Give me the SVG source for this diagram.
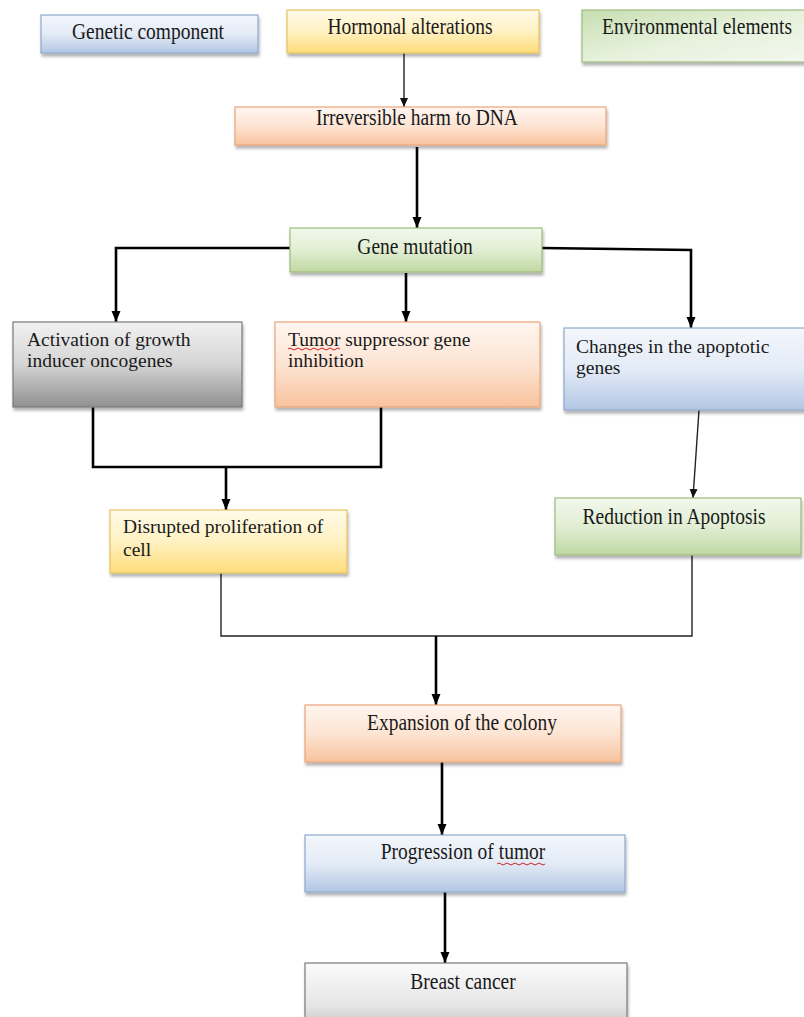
<svg xmlns="http://www.w3.org/2000/svg" width="804" height="1017" viewBox="0 0 804 1017">
<defs>
<linearGradient id="gBlue" x1="0" y1="0" x2="0" y2="1"><stop offset="0" stop-color="#f4f7fc"/><stop offset="0.5" stop-color="#e3ebf6"/><stop offset="1" stop-color="#b2c6e4"/></linearGradient>
<linearGradient id="gYellow" x1="0" y1="0" x2="0" y2="1"><stop offset="0" stop-color="#fffbea"/><stop offset="0.5" stop-color="#fff1c2"/><stop offset="1" stop-color="#fddc7a"/></linearGradient>
<linearGradient id="gGreen" x1="0" y1="0" x2="0" y2="1"><stop offset="0" stop-color="#f2f8ec"/><stop offset="0.5" stop-color="#e1eed3"/><stop offset="1" stop-color="#bfd8a3"/></linearGradient>
<linearGradient id="gEnv" x1="0" y1="0" x2="1" y2="1"><stop offset="0" stop-color="#c7deb0"/><stop offset="0.5" stop-color="#e6f1dc"/><stop offset="1" stop-color="#f3f8ee"/></linearGradient>
<linearGradient id="gPeach" x1="0" y1="0" x2="0" y2="1"><stop offset="0" stop-color="#fff6f0"/><stop offset="0.5" stop-color="#fde4d3"/><stop offset="1" stop-color="#f8c39e"/></linearGradient>
<linearGradient id="gGray" x1="0" y1="0" x2="0" y2="1"><stop offset="0" stop-color="#f2f2f2"/><stop offset="0.5" stop-color="#d4d4d4"/><stop offset="1" stop-color="#909090"/></linearGradient>
<linearGradient id="gLight" x1="0" y1="0" x2="0" y2="1"><stop offset="0" stop-color="#fbfbfb"/><stop offset="0.6" stop-color="#e6e6e6"/><stop offset="1" stop-color="#bdbdbd"/></linearGradient>
<filter id="sh" x="-10%" y="-20%" width="120%" height="150%"><feDropShadow dx="1" dy="3" stdDeviation="1.5" flood-color="#000" flood-opacity="0.3"/></filter>
<marker id="ah" markerUnits="userSpaceOnUse" markerWidth="12" markerHeight="12" viewBox="0 0 12 12" refX="11" refY="6" orient="auto"><path d="M0,1.5 L11,6 L0,10.5 Z" fill="#000"/></marker>
<marker id="ahs" markerUnits="userSpaceOnUse" markerWidth="10" markerHeight="10" viewBox="0 0 10 10" refX="9" refY="5" orient="auto"><path d="M0,1 L9,5 L0,9 Z" fill="#111"/></marker>
</defs>
<style>
text{font-family:"Liberation Serif","Times New Roman",serif;font-size:19.5px;fill:#1a1a1a}
.c{text-anchor:middle}
.b{stroke-width:1.2;filter:url(#sh)}
.blue{fill:url(#gBlue);stroke:#8ea8cf}
.yel{fill:url(#gYellow);stroke:#e6c35c}
.grn{fill:url(#gGreen);stroke:#9dbb7f}
.env{fill:url(#gEnv);stroke:#9dbb7f}
.pch{fill:url(#gPeach);stroke:#eba57a}
.gry{fill:url(#gGray);stroke:#7a7a7a}
.lgt{fill:url(#gLight);stroke:#7a7a7a}
.thick{fill:none;stroke:#000;stroke-width:2.6}
.thin{fill:none;stroke:#222;stroke-width:1.4}
.sq{fill:none;stroke:#d02020;stroke-width:1}
</style>
<rect width="804" height="1017" fill="#fff"/>

<g id="connectors">
<line class="thin" x1="404" y1="53" x2="404" y2="107" marker-end="url(#ahs)"/>
<line class="thick" x1="417" y1="147" x2="417" y2="228" marker-end="url(#ah)"/>
<polyline class="thick" points="290,248 116,248 116,322" marker-end="url(#ah)"/>
<line class="thick" x1="406" y1="273" x2="406" y2="322" marker-end="url(#ah)"/>
<polyline class="thick" points="542,248 691,250 691,328" marker-end="url(#ah)"/>
<polyline class="thick" points="93,407 93,467 381,467 381,407"/>
<line class="thick" x1="226" y1="467" x2="226" y2="510" marker-end="url(#ah)"/>
<line class="thin" x1="699" y1="410" x2="693" y2="498" marker-end="url(#ahs)"/>
<polyline class="thin" points="221,573 221,636 692,636 692,555"/>
<line class="thick" x1="436" y1="636" x2="436" y2="705" marker-end="url(#ah)"/>
<line class="thick" x1="442" y1="762" x2="442" y2="835" marker-end="url(#ah)"/>
<line class="thick" x1="445" y1="892" x2="445" y2="963" marker-end="url(#ah)"/>
</g>

<g id="genetic"><rect class="b blue" x="41" y="15" width="217" height="38"/><text class="c" transform="translate(148,39) scale(1,1.15)">Genetic component</text></g>
<g id="hormonal"><rect class="b yel" x="287" y="10" width="252" height="43"/><text class="c" transform="translate(410,34) scale(1,1.15)">Hormonal alterations</text></g>
<g id="environmental"><rect class="b env" x="582" y="10" width="230" height="52"/><text class="c" transform="translate(697,34) scale(1,1.15)">Environmental elements</text></g>
<g id="dna"><rect class="b pch" x="235" y="107" width="371" height="38"/><text class="c" transform="translate(417,125) scale(1,1.15)">Irreversible harm to DNA</text></g>
<g id="gene"><rect class="b grn" x="290" y="228" width="252" height="44"/><text class="c" transform="translate(415,254) scale(1,1.15)">Gene mutation</text></g>
<g id="activation"><rect class="b gry" x="13" y="322" width="229" height="85"/><text x="27" y="346">Activation of growth</text><text x="27" y="367">inducer oncogenes</text></g>
<g id="tumor"><rect class="b pch" x="275" y="322" width="265" height="85"/><text x="288" y="346">Tumor suppressor gene</text><text x="288" y="367">inhibition</text><path class="sq" d="M288,349 q2,-2 4,0 t4,0 t4,0 t4,0 t4,0 t4,0 t4,0 t4,0 t4,0 t4,0 t4,0 t4,0 t4,0"/></g>
<g id="changes"><rect class="b blue" x="564" y="328" width="246" height="82"/><text x="576" y="353">Changes in the apoptotic</text><text x="576" y="374">genes</text></g>
<g id="disrupted"><rect class="b yel" x="110" y="510" width="237" height="63"/><text x="123" y="533">Disrupted proliferation of</text><text x="123" y="556">cell</text></g>
<g id="reduction"><rect class="b grn" x="555" y="498" width="246" height="57"/><text class="c" transform="translate(674,524) scale(1,1.15)">Reduction in Apoptosis</text></g>
<g id="expansion"><rect class="b pch" x="305" y="705" width="316" height="57"/><text class="c" transform="translate(462,730) scale(1,1.15)">Expansion of the colony</text></g>
<g id="progression"><rect class="b blue" x="305" y="835" width="320" height="57"/><text class="c" transform="translate(463,859) scale(1,1.15)">Progression of tumor</text><path class="sq" d="M497,864 q2,-2 4,0 t4,0 t4,0 t4,0 t4,0 t4,0 t4,0 t4,0 t4,0 t4,0 t4,0 t4,0"/></g>
<g id="breast"><rect class="b lgt" x="305" y="963" width="322" height="70"/><text class="c" transform="translate(463,989) scale(1,1.15)">Breast cancer</text></g>
</svg>
